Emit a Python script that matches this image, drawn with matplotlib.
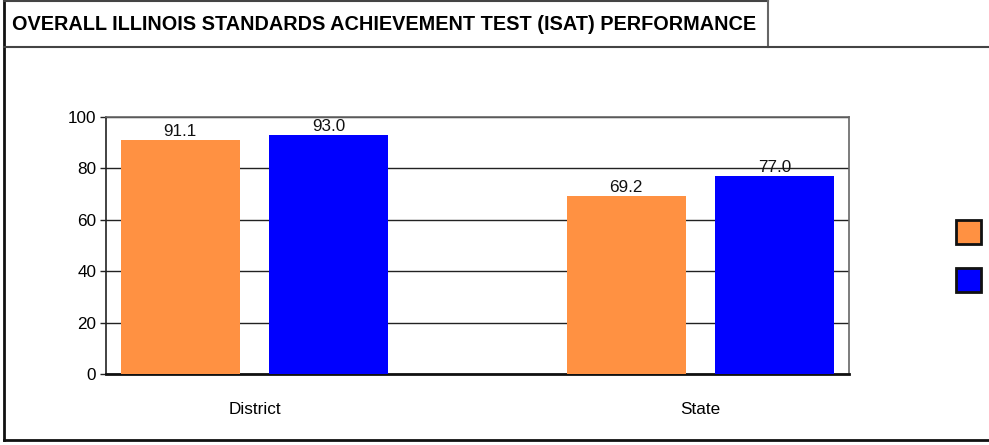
import matplotlib.pyplot as plt
from matplotlib.lines import Line2D
from matplotlib.patches import Rectangle
import numpy as np

plt.rcParams['font.family'] = ['Liberation Sans', 'DejaVu Sans']

categories = ['District', 'State']
series_a = [91.1, 69.2]   # orange
series_b = [93.0, 77.0]   # blue
colors = ['#FF9142', '#0000FF']
yticks = [0, 20, 40, 60, 80, 100]

fig = plt.figure(figsize=(9.89, 4.45), dpi=100)
ax = fig.add_axes([0.1072, 0.1596, 0.7513, 0.5775])

x = np.arange(len(categories))
w = 0.267
off = 0.1667
b1 = ax.bar(x - off, series_a, w, color=colors[0], zorder=3)
b2 = ax.bar(x + off, series_b, w, color=colors[1], zorder=3)

for bars, vals in ((b1, series_a), (b2, series_b)):
    for r, v in zip(bars, vals):
        ax.text(r.get_x() + r.get_width() / 2, v + 0.5, '%.1f' % v,
                ha='center', va='bottom', fontsize=12.3, color='#111111', zorder=4)

ax.set_xlim(-0.333, 1.333)
ax.set_ylim(0, 100)
ax.set_yticks(yticks)
ax.set_xticks(x)
ax.set_xticklabels(categories)
ax.tick_params(axis='y', length=4, width=1, labelsize=12.3, pad=3, color='#222222')
ax.tick_params(axis='x', length=0, labelsize=12.3, pad=20)
ax.yaxis.grid(True, color='#222222', lw=1, zorder=1)
ax.set_axisbelow(True)
for s in ('top', 'right'):
    ax.spines[s].set_color('#666666')
    ax.spines[s].set_linewidth(1.2)
ax.spines['left'].set_color('#222222')
ax.spines['left'].set_linewidth(1.2)
ax.spines['bottom'].set_color('#111111')
ax.spines['bottom'].set_linewidth(2)

# outer frame and title box
lk = dict(transform=fig.transFigure, color='#111111', lw=2)
fig.add_artist(Line2D([0.004, 0.004], [0.011, 1.0], **lk))
fig.add_artist(Line2D([0.004, 1.0], [0.011, 0.011], **lk))
fig.add_artist(Line2D([0.004, 0.7765], [0.998, 0.998], transform=fig.transFigure, color='#444444', lw=1.5))
fig.add_artist(Line2D([0.7765, 0.7765], [0.894, 1.0], transform=fig.transFigure, color='#666666', lw=1.5))
fig.add_artist(Line2D([0.004, 1.0], [0.894, 0.894], transform=fig.transFigure, color='#444444', lw=1.5))

fig.text(0.0125, 0.945, 'OVERALL ILLINOIS STANDARDS ACHIEVEMENT TEST (ISAT) PERFORMANCE',
         family=['Liberation Sans Narrow', 'Liberation Sans', 'DejaVu Sans'],
         fontweight='bold', fontsize=14.3, va='center', ha='left')

# legend squares
for i, c in enumerate(colors):
    y0 = 1 - (244 + i * 48) / 445
    fig.add_artist(Rectangle((956 / 989, y0), 25 / 989, 24 / 445, transform=fig.transFigure,
                             facecolor=c, edgecolor='#111111', lw=2))

fig.savefig('out.png', dpi=100)
